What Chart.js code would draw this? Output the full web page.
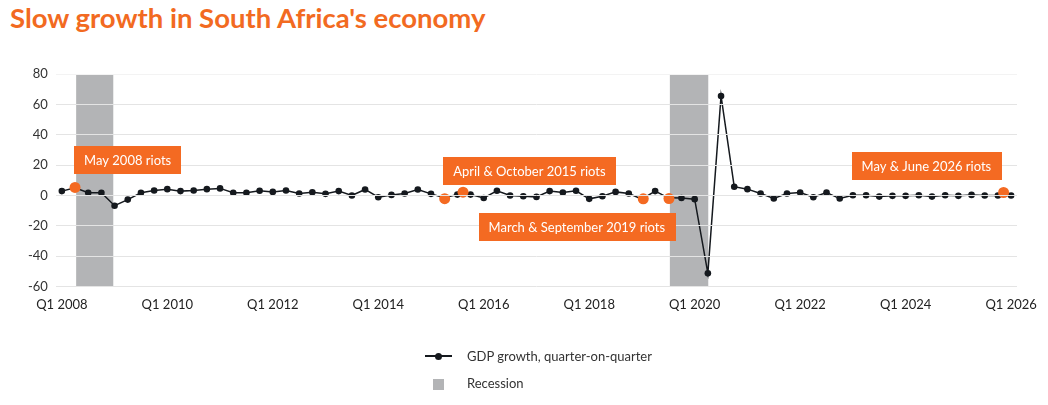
<!DOCTYPE html>
<html>
<head>
<meta charset="utf-8">
<script src="https://cdn.jsdelivr.net/npm/chart.js@4/dist/chart.umd.min.js"></script>
<style>
  html, body { margin: 0; padding: 0; background: #fff; }
  body { width: 1048px; height: 405px; position: relative; overflow: hidden; font-family: Lato, "Open Sans", sans-serif; }
  .title { position: absolute; left: 10px; top: 1px; font-size: 27.5px; font-weight: 700; color: #F26A21; letter-spacing: 0; white-space: nowrap; }
  .wrap { position: absolute; left: 0; top: 0; width: 1048px; height: 405px; }
  .legend { position: absolute; left: 425px; top: 346px; font-size: 13px; color: #333; }
  .legend-row { position: relative; height: 27px; }
  .legend-row span.txt { position: absolute; left: 42px; top: 2px; white-space: nowrap; }
  .sym-line { position: absolute; left: 0; top: 9px; width: 27px; height: 2px; background: #15191e; }
  .sym-dot { position: absolute; left: 10px; top: 6.5px; width: 7px; height: 7px; border-radius: 50%; background: #15191e; }
  .sym-box { position: absolute; left: 8px; top: 6px; width: 11px; height: 11px; background: #b3b4b6; }
</style>
</head>
<body>
<div class="title">Slow growth in South Africa's economy</div>
<div class="wrap"><canvas id="gdp-chart"></canvas></div>
<div class="legend">
  <div class="legend-row"><div class="sym-line"></div><div class="sym-dot"></div><span class="txt">GDP growth, quarter-on-quarter</span></div>
  <div class="legend-row"><div class="sym-box"></div><span class="txt">Recession</span></div>
</div>
<script>
// Quartalswerte Q1 2008 … Q1 2026 (Index 0 = Q1 2008).
const gdpGrowth = [
  2.8, 5.0, 1.7, 1.7, -6.8, -2.8, 1.7, 3.2, 4.1, 2.8,
  3.2, 4.1, 4.6, 1.7, 1.7, 3.0, 2.3, 3.2, 1.2, 2.1,
  1.0, 2.8, -0.1, 3.9, -1.2, 0.3, 1.2, 3.9, 1.0, -1.6,
  0.5, 0.5, -1.7, 3.0, -0.1, -0.6, -1.0, 2.8, 1.9, 3.0,
  -2.3, -0.6, 2.3, 1.2, -2.5, 2.8, -1.6, -1.7, -2.5, -51.4,
  65.5, 5.7, 4.1, 1.2, -2.1, 1.2, 1.9, -1.2, 1.9, -2.1,
  0.1, 0.1, -0.8, -0.3, -0.3, 0.1, -0.8, 0.1, -0.3, 0.3,
  -0.1, -0.1, -0.1
];

const xTickValues = [0, 8, 16, 24, 32, 40, 48, 56, 64, 72];
const xTickLabels = ['Q1 2008', 'Q1 2010', 'Q1 2012', 'Q1 2014', 'Q1 2016',
  'Q1 2018', 'Q1 2020', 'Q1 2022', 'Q1 2024', 'Q1 2026'];
const yTicks = [-60, -40, -20, 0, 20, 40, 60, 80];

// Rezessionen als Quartalsindex (Beginn/Ende der grauen Fläche).
const recessionStart = [1.08, 46.1];
const recessionEnd = [3.92, 49.05];

// Unruhen: Markerposition (Quartalsindex, Wert).
const riotX = [1.0, 29.04, 30.43, 44.1, 46.05, 71.43];
const riotY = [5.2, -2.2, 2.1, -2.3, -2.1, 1.9];

// Beschriftungen: Text, linke obere Ecke in Datenkoordinaten.
const noteText = ['May 2008 riots', 'April & October 2015 riots',
  'March & September 2019 riots', 'May & June 2026 riots'];
const noteX = [0.93, 28.92, 31.61, 59.9];
const noteY = [32.5, 25.1, -11.5, 28.7];

const ORANGE = '#F46A22';
const INK = '#15191e';
const FONT = 'Lato, "Open Sans", sans-serif';

const recessionSets = recessionStart.map((s, i) => ({
  label: 'Recession',
  data: [{ x: s, y: 80 }, { x: recessionEnd[i], y: 80 }],
  borderWidth: 0,
  pointRadius: 0,
  backgroundColor: '#b3b4b6',
  fill: { value: -60 },
  order: 3,
}));

// Orange Kästen mit weißer Schrift über allem.
const notesPlugin = {
  id: 'notes',
  afterDraw(chart) {
    const { ctx, scales: { x, y } } = chart;
    ctx.save();
    ctx.font = `13px ${FONT}`;
    ctx.textBaseline = 'middle';
    noteText.forEach((t, i) => {
      const left = x.getPixelForValue(noteX[i]);
      const top = y.getPixelForValue(noteY[i]);
      const w = ctx.measureText(t).width + 20;
      const h = 28;
      ctx.fillStyle = ORANGE;
      ctx.fillRect(Math.round(left), Math.round(top), Math.round(w), h);
      ctx.fillStyle = '#fff';
      ctx.fillText(t, left + 10, top + h / 2 + 1);
    });
    ctx.restore();
  },
};

new Chart(document.getElementById('gdp-chart'), {
  type: 'line',
  data: {
    datasets: [
      {
        label: 'Riots',
        type: 'scatter',
        data: riotX.map((v, i) => ({ x: v, y: riotY[i] })),
        pointRadius: 5.5,
        pointHoverRadius: 5.5,
        backgroundColor: ORANGE,
        borderColor: ORANGE,
        borderWidth: 0,
        order: 1,
      },
      {
        label: 'GDP growth, quarter-on-quarter',
        data: gdpGrowth.map((v, i) => ({ x: i, y: v })),
        borderColor: INK,
        backgroundColor: INK,
        borderWidth: 1.5,
        pointRadius: 3.3,
        pointBorderWidth: 0,
        tension: 0,
        fill: false,
        order: 2,
      },
      ...recessionSets,
    ],
  },
  options: {
    responsive: true,
    maintainAspectRatio: false,
    animation: false,
    layout: { padding: { left: 20, right: 30, top: 74, bottom: 81 } },
    plugins: {
      legend: { display: false },
      tooltip: { enabled: false },
    },
    scales: {
      x: {
        type: 'linear',
        min: -0.45,
        max: 72.45,
        afterBuildTicks: (s) => { s.ticks = xTickValues.map((v) => ({ value: v })); },
        grid: { display: false, drawTicks: false },
        border: { display: false },
        ticks: {
          padding: 11,
          color: '#222',
          font: { family: FONT, size: 13 },
          maxRotation: 0,
          callback: (v) => xTickLabels[xTickValues.indexOf(v)] ?? '',
        },
      },
      y: {
        min: -60,
        max: 80,
        afterBuildTicks: (s) => { s.ticks = yTicks.map((v) => ({ value: v })); },
        grid: {
          z: 1,
          drawTicks: false,
          lineWidth: 1,
          color: (c) => (c.tick && c.tick.value === 80 ? '#f3f3f3' : '#e4e4e4'),
        },
        border: { display: false },
        ticks: {
          padding: 8,
          color: '#333',
          font: { family: FONT, size: 13 },
        },
      },
    },
  },
  plugins: [notesPlugin],
});
</script>
</body>
</html>
